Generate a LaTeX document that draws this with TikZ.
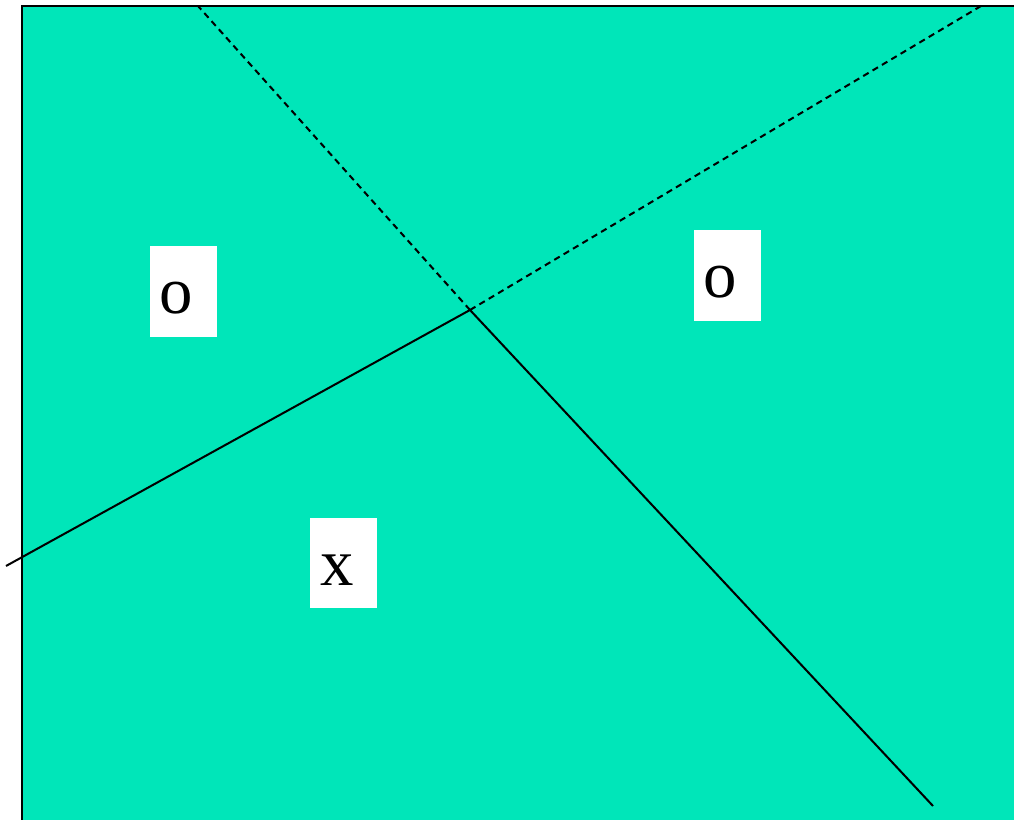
\documentclass[tikz,border=0pt]{standalone}
\usepackage{fontspec}
\setmainfont{Liberation Serif}
\usetikzlibrary{positioning}
\definecolor{RegionTeal}{RGB}{0,230,185}
\tikzset{
  region/.style={fill=RegionTeal,draw=none},
  frame/.style={black,line width=1.2pt},
  boundary/.style={black,line width=1.15pt},
  hidden/.style={boundary,dash pattern=on 3.6pt off 2.6pt},
  labelbox/.style={fill=white,draw=none,minimum width=1.34cm,minimum height=1.82cm,inner sep=0pt},
  letter/.style={inner sep=0pt,font=\fontsize{38}{42}\selectfont}
}

\begin{document}
\begin{tikzpicture}[x=0.02cm,y=-0.02cm]
      \useasboundingbox (0,0) rectangle (1014,820);
      \fill[region] (22,6) rectangle (1014,820);
      \draw[frame] (22,820) -- (22,6) -- (1014,6);
      % where the two separating lines cross
      \coordinate (cross) at (470,310);
      \coordinate (nw end) at (198,6);
      \coordinate (ne end) at (981,6);
      \coordinate (sw end) at (6,566);
      \coordinate (se end) at (933,806);
      \draw[hidden] (cross) -- (nw end);
      \draw[hidden] (cross) -- (ne end);
      \draw[boundary] (cross) -- (sw end);
      \draw[boundary] (cross) -- (se end);
      % class labels
      \node[labelbox] (left box) at (183.5,291.5) {};
      \node[letter] (left o) at (176.5,298.5) {o};
      \node[labelbox] (right box) at (727.5,275.5) {};
      \node[letter] (right o) at (720.5,282.5) {o};
      \node[labelbox] (bottom box) at (343.5,563) {};
      \node[letter] (bottom x) at (337,570.5) {x};
    \end{tikzpicture}
\end{document}
